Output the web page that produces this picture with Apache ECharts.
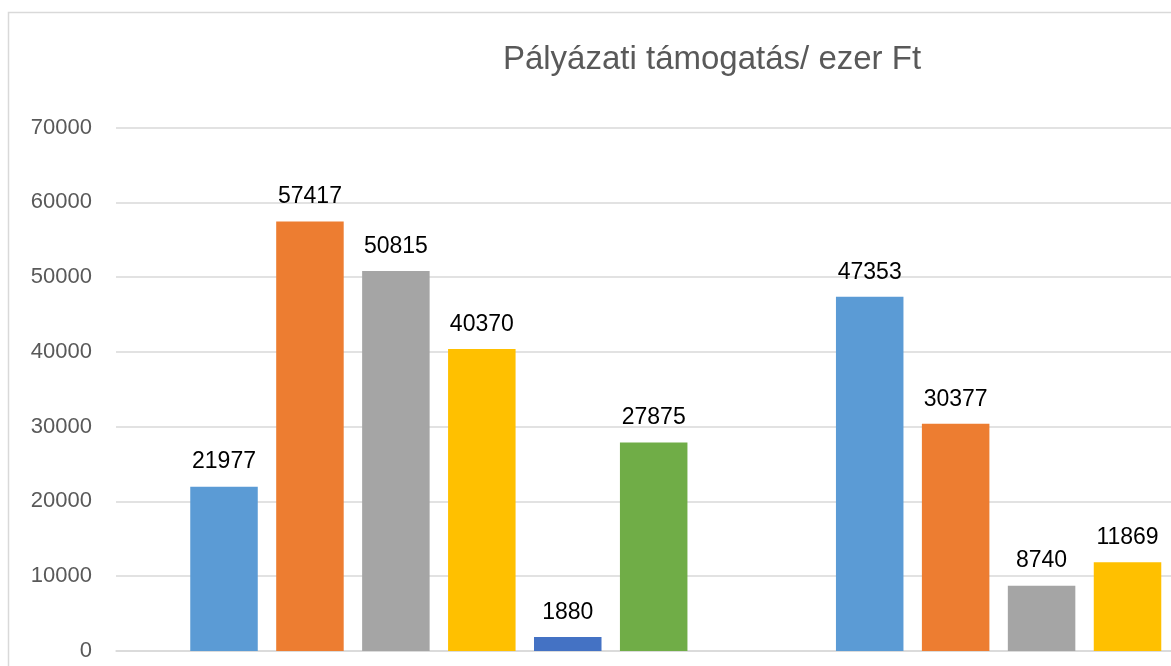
<!DOCTYPE html>
<html>
<head>
<meta charset="utf-8">
<script src="https://cdn.jsdelivr.net/npm/echarts@6/dist/echarts.min.js"></script>
<style>
html,body{margin:0;padding:0;background:#fff;}
#chart{width:1171px;height:666px;}
</style>
</head>
<body>
<div id="chart"></div>
<script>
var titleText = 'Pályázati támogatás/ ezer Ft';
var categories = ['A', 'B'];
var series1 = [21977, 47353];
var series2 = [57417, 30377];
var series3 = [50815, 8740];
var series4 = [40370, 11869];
var series5 = [1880, null];
var series6 = [27875, null];
var seriesNames = ['S1', 'S2', 'S3', 'S4', 'S5', 'S6'];
var colors = ['#5B9BD5', '#ED7D31', '#A5A5A5', '#FFC000', '#4472C4', '#70AD47'];
var yTicks = [0, 10000, 20000, 30000, 40000, 50000, 60000, 70000];

var allData = [series1, series2, series3, series4, series5, series6];
var font = 'Liberation Sans, Arial, sans-serif';

var chart = echarts.init(document.getElementById('chart'));
chart.setOption({
  animation: false,
  backgroundColor: '#fff',
  title: {
    text: titleText,
    left: 707,
    top: 38,
    textAlign: 'center',
    textStyle: { fontFamily: font, fontSize: 33, fontWeight: 'normal', color: '#595959' }
  },
  graphic: [{
    type: 'rect',
    shape: { x: 8.5, y: 12.5, width: 1300, height: 800 },
    style: { fill: null, stroke: '#d9d9d9', lineWidth: 1.5 },
    silent: true
  }],
  grid: { left: 116, top: 127.5, bottom: 15, width: 1291.4, containLabel: false, outerBoundsMode: 'none' },
  xAxis: {
    type: 'category',
    data: categories,
    axisLine: { lineStyle: { color: '#d9d9d9', width: 1.5 } },
    axisTick: { show: false },
    axisLabel: { show: false }
  },
  yAxis: {
    type: 'value',
    min: yTicks[0],
    max: yTicks[yTicks.length - 1],
    interval: yTicks[1] - yTicks[0],
    axisLine: { show: false },
    axisTick: { show: false },
    splitLine: { lineStyle: { color: '#d9d9d9', width: 1.5 } },
    axisLabel: {
      margin: 24, fontFamily: font, fontSize: 22, color: '#595959',
      formatter: function (v) { return String(v); }
    }
  },
  series: allData.map(function (d, i) {
    return {
      type: 'bar',
      name: seriesNames[i],
      data: d,
      barGap: '27.3%',
      barCategoryGap: '23%',
      itemStyle: { color: colors[i] },
      label: {
        show: true,
        position: 'top',
        distance: 13,
        fontFamily: font,
        fontSize: 23,
        color: '#000'
      }
    };
  })
});
</script>
</body>
</html>
